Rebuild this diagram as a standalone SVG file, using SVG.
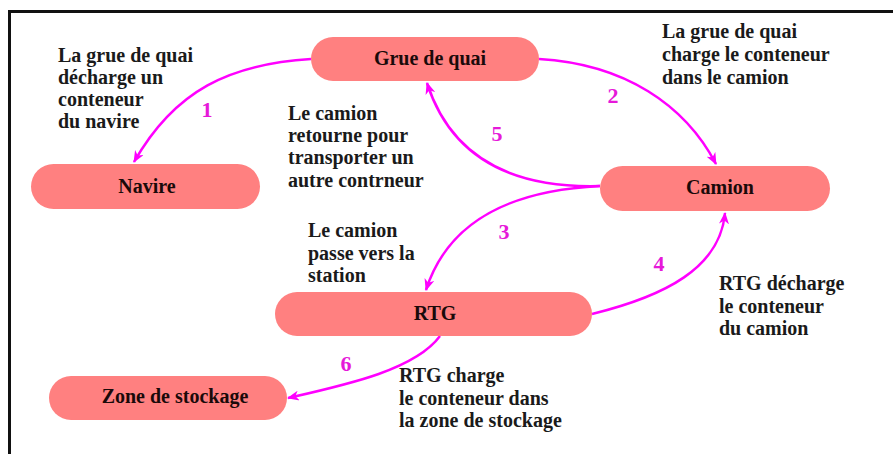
<svg xmlns="http://www.w3.org/2000/svg" width="893" height="454" viewBox="0 0 893 454">
  <style>
    text { font-family: "Liberation Serif", "Times New Roman", serif; font-weight: bold; }
    .node rect { fill: #FF8080; }
    .node text { font-size: 20px; fill: #1a0a0a; text-anchor: middle; }
    .note { font-size: 20px; fill: #1a1a1a; }
    .num { font-size: 22px; fill: #E619D9; text-anchor: middle; }
    .edge { fill: none; stroke: #FF00FF; stroke-width: 2.5; marker-end: url(#arrow); }
  </style>
  <defs>
    <marker id="arrow" viewBox="0 0 12 10" refX="11" refY="5" markerWidth="12" markerHeight="10" markerUnits="userSpaceOnUse" orient="auto">
      <path d="M0,0 L12,5 L0,10 L3.5,5 Z" fill="#FF00FF"/>
    </marker>
  </defs>
  <rect width="893" height="454" fill="#ffffff"/>
  <!-- frame -->
  <path d="M9.5,454 L9.5,11.5 L893,11.5" fill="none" stroke="#111" stroke-width="3"/>

  <g id="connectors">
    <path class="edge" d="M311,59 C230,64 175,90 134,162"/>
    <path class="edge" d="M539,59 C625,64 685,105 716,164"/>
    <path class="edge" d="M600,186 C530,188 455,170 427,83"/>
    <path class="edge" d="M600,186 C520,190 450,215 426,290"/>
    <path class="edge" d="M592,314 C665,296 720,268 725,213"/>
    <path class="edge" d="M440,336 C415,370 345,385 288,398"/>
  </g>

  <g id="numbers">
    <text class="num" x="207" y="117">1</text>
    <text class="num" x="613" y="103">2</text>
    <text class="num" x="497" y="141">5</text>
    <text class="num" x="504" y="239">3</text>
    <text class="num" x="659" y="271">4</text>
    <text class="num" x="346" y="371">6</text>
  </g>

  <g id="node-grue" class="node">
    <rect x="311" y="37" width="228" height="44" rx="22"/>
    <text x="430" y="65">Grue de quai</text>
  </g>
  <g id="node-navire" class="node">
    <rect x="31" y="164" width="229" height="45" rx="22.5"/>
    <text x="147" y="193">Navire</text>
  </g>
  <g id="node-camion" class="node">
    <rect x="600" y="166" width="230" height="45" rx="22.5"/>
    <text x="720" y="194">Camion</text>
  </g>
  <g id="node-rtg" class="node">
    <rect x="275" y="292" width="317" height="44" rx="22"/>
    <text x="435" y="320">RTG</text>
  </g>
  <g id="node-zone" class="node">
    <rect x="49" y="376" width="238" height="44" rx="22"/>
    <text x="175" y="403">Zone de stockage</text>
  </g>

  <g id="notes">
    <text class="note" x="58" y="62">La grue de quai</text>
    <text class="note" x="58" y="84">décharge un</text>
    <text class="note" x="58" y="106">conteneur</text>
    <text class="note" x="58" y="128">du navire</text>

    <text class="note" x="288" y="120">Le camion</text>
    <text class="note" x="288" y="142">retourne pour</text>
    <text class="note" x="288" y="164">transporter un</text>
    <text class="note" x="288" y="187">autre contrneur</text>

    <text class="note" x="662" y="38">La grue de quai</text>
    <text class="note" x="662" y="61">charge le conteneur</text>
    <text class="note" x="662" y="84">dans le camion</text>

    <text class="note" x="308" y="237">Le camion</text>
    <text class="note" x="308" y="260">passe vers la</text>
    <text class="note" x="308" y="282">station</text>

    <text class="note" x="719" y="290">RTG décharge</text>
    <text class="note" x="719" y="313">le conteneur</text>
    <text class="note" x="719" y="335">du camion</text>

    <text class="note" x="399" y="382">RTG charge</text>
    <text class="note" x="399" y="405">le conteneur dans</text>
    <text class="note" x="399" y="427">la zone de stockage</text>
  </g>
</svg>
